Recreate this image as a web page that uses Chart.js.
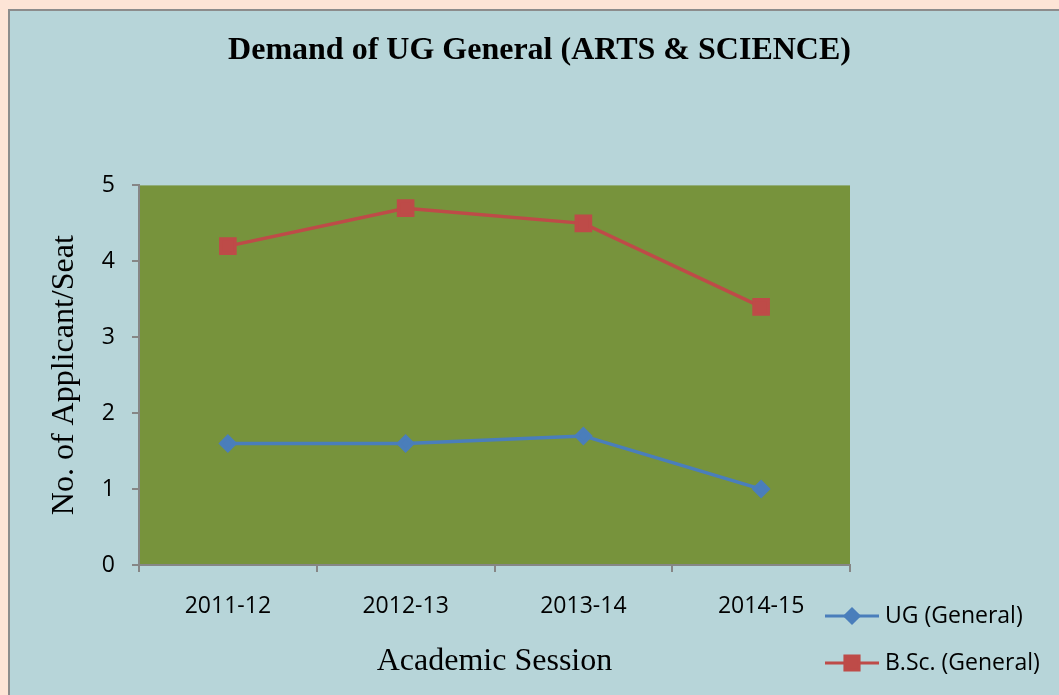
<!DOCTYPE html>
<html>
<head>
<meta charset="utf-8">
<script src="https://cdn.jsdelivr.net/npm/chart.js@4/dist/chart.umd.min.js"></script>
<style>
  html, body { margin: 0; padding: 0; }
  body { width: 1059px; height: 695px; background: #fde4d6; overflow: hidden; position: relative; }
  #panel { position: absolute; left: 8px; top: 9px; width: 1100px; height: 740px; background: #b7d5d9; border: 2px solid #8c8c8c; }
  #wrap { position: absolute; left: 0; top: 0; width: 1059px; height: 695px; }
</style>
</head>
<body>
<div id="panel"></div>
<div id="wrap"><canvas id="chart" width="1059" height="695"></canvas></div>
<script>
const sessions = ['2011-12', '2012-13', '2013-14', '2014-15'];
const ugGeneral = [1.6, 1.6, 1.7, 1.0];
const bscGeneral = [4.2, 4.7, 4.5, 3.4];
const yTicks = [0, 1, 2, 3, 4, 5];

const axisGrey = '#868686';

// olive plot area
const plotBg = {
  id: 'plotBg',
  beforeDraw(chart) {
    const { ctx, chartArea: a } = chart;
    ctx.save();
    ctx.fillStyle = '#77933c';
    ctx.fillRect(a.left, a.top, a.right - a.left, a.bottom - a.top);
    ctx.restore();
  }
};

// excel-style legend: line + marker + label, bottom right
const lineLegend = {
  id: 'lineLegend',
  afterDraw(chart) {
    const { ctx, chartArea: a } = chart;
    const x0 = a.right - 25;
    const rows = [a.bottom + 51, a.bottom + 98];
    ctx.save();
    chart.data.datasets.forEach((ds, i) => {
      const y = rows[i];
      ctx.strokeStyle = ds.borderColor;
      ctx.lineWidth = 3;
      ctx.beginPath();
      ctx.moveTo(x0, y);
      ctx.lineTo(x0 + 54, y);
      ctx.stroke();
      ctx.fillStyle = ds.pointBackgroundColor;
      ctx.strokeStyle = ds.pointBorderColor;
      Chart.helpers.drawPoint(ctx, { pointStyle: ds.pointStyle, radius: ds.pointRadius, borderWidth: 1, rotation: 0 }, x0 + 27, y);
      ctx.fillStyle = '#000';
      ctx.font = '23px "Open Sans"';
      ctx.textBaseline = 'middle';
      ctx.textAlign = 'left';
      ctx.fillText(ds.label, x0 + 60, y);
    });
    ctx.restore();
  }
};

new Chart(document.getElementById('chart'), {
  type: 'line',
  data: {
    labels: sessions,
    datasets: [{
      label: 'UG (General)',
      data: ugGeneral,
      borderColor: '#4a7ebb',
      borderWidth: 3.5,
      pointStyle: 'rectRot',
      pointRadius: 7,
      pointBackgroundColor: '#4a7ebb',
      pointBorderColor: '#4a7ebb',
      tension: 0
    }, {
      label: 'B.Sc. (General)',
      data: bscGeneral,
      borderColor: '#be4b48',
      borderWidth: 3.5,
      pointStyle: 'rect',
      pointRadius: 10,
      pointBackgroundColor: '#be4b48',
      pointBorderColor: '#be4b48',
      tension: 0
    }]
  },
  options: {
    responsive: false,
    animation: false,
    layout: { padding: { left: 20, top: 0, right: 0, bottom: 0 } },
    font: { family: '"Open Sans"' },
    plugins: {
      legend: { display: false },
      tooltip: { enabled: false },
      title: {
        display: true,
        text: 'Demand of UG General (ARTS & SCIENCE)',
        color: '#000',
        font: { family: '"Liberation Serif", "Times New Roman", serif', size: 32, weight: 'bold' },
        padding: { top: 32, bottom: 115 }
      }
    },
    scales: {
      x: {
        offset: true,
        grid: { display: true, drawOnChartArea: false, offset: true, tickLength: 7, color: axisGrey, lineWidth: 2 },
        border: { color: axisGrey, width: 2 },
        ticks: { color: '#000', padding: 21, font: { family: '"Open Sans"', size: 23 } },
        title: {
          display: true,
          text: 'Academic Session',
          color: '#000',
          font: { family: '"Liberation Serif", "Times New Roman", serif', size: 32 },
          padding: { top: 0, bottom: 14 }
        },
        afterFit(scale) { scale.height = 130; }
      },
      y: {
        min: 0,
        max: 5,
        afterBuildTicks(scale) { scale.ticks = yTicks.map((v) => ({ value: v })); },
        grid: { display: true, drawOnChartArea: false, tickLength: 7, color: axisGrey, lineWidth: 2 },
        border: { color: axisGrey, width: 2 },
        ticks: { color: '#000', padding: 17, font: { family: '"Open Sans"', size: 23 } },
        title: {
          display: true,
          text: 'No. of Applicant/Seat',
          color: '#000',
          font: { family: '"Liberation Serif", "Times New Roman", serif', size: 32 },
          padding: { top: 25, bottom: 0 }
        },
        afterFit(scale) { scale.width = 119; }
      },
      // empty right-hand axis, only reserves room for the legend
      legendRoom: {
        type: 'linear',
        position: 'right',
        grid: { display: false },
        border: { display: false },
        ticks: { display: false },
        afterFit(scale) { scale.width = 209; }
      }
    }
  },
  plugins: [plotBg, lineLegend]
});
</script>
</body>
</html>
